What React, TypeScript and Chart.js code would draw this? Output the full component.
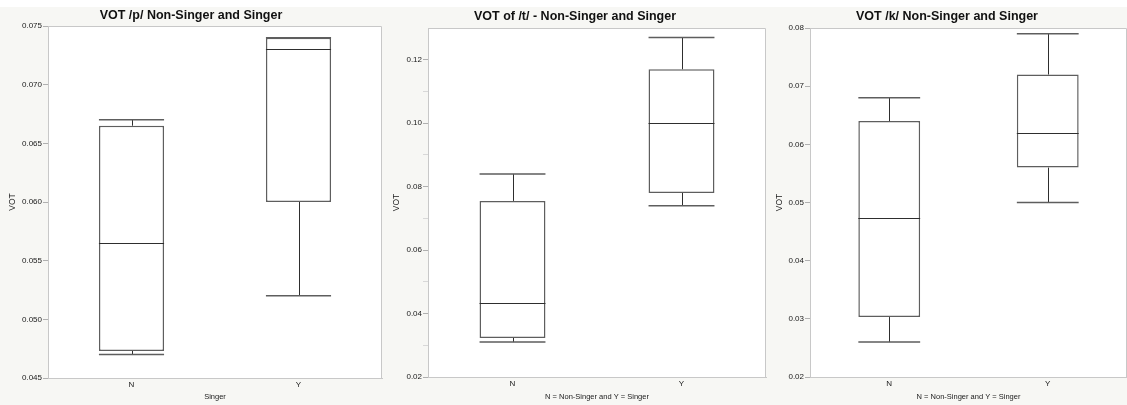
import React, { useEffect, useRef } from 'react';
import { Chart, registerables } from 'chart.js';

Chart.register(...registerables);

// ---------- data ----------
const categories = ['N', 'Y'];

// /p/
const pMin = [0.047, 0.052];
const pQ1 = [0.0473, 0.060];
const pMedian = [0.0565, 0.073];
const pQ3 = [0.0665, 0.074];
const pMax = [0.067, 0.074];
const pTickValues = [0.045, 0.05, 0.055, 0.06, 0.065, 0.07, 0.075];
const pTickLabels = ['0.045', '0.050', '0.055', '0.060', '0.065', '0.070', '0.075'];

// /t/
const tMin = [0.031, 0.074];
const tQ1 = [0.0323, 0.078];
const tMedian = [0.0433, 0.1];
const tQ3 = [0.0755, 0.117];
const tMax = [0.084, 0.127];
const tTickValues = [0.02, 0.03, 0.04, 0.05, 0.06, 0.07, 0.08, 0.09, 0.1, 0.11, 0.12];
const tTickLabels = ['0.02', '', '0.04', '', '0.06', '', '0.08', '', '0.10', '', '0.12'];

// /k/
const kMin = [0.026, 0.05];
const kQ1 = [0.0303, 0.056];
const kMedian = [0.0474, 0.062];
const kQ3 = [0.064, 0.072];
const kMax = [0.068, 0.079];
const kTickValues = [0.02, 0.03, 0.04, 0.05, 0.06, 0.07, 0.08];
const kTickLabels = ['0.02', '0.03', '0.04', '0.05', '0.06', '0.07', '0.08'];

// ---------- styles ----------
const FONT = 'Liberation Sans, Arial, Helvetica, sans-serif';
const PANEL_BG = '#f7f7f4';
const AXIS = '#c8c8c8';
const TEXT = '#1a1a1a';
const BOX_EDGE = '#5e5e5e';
const LINE_DARK = '#2e2e2e';

const boxPlugin = {
  id: 'boxStats',
  beforeDraw(chart: any) {
    const { ctx, width, height, chartArea: a } = chart;
    ctx.save();
    ctx.fillStyle = '#ffffff';
    ctx.fillRect(0, 0, width, height);
    ctx.fillStyle = PANEL_BG;
    ctx.fillRect(0, 7, width, height - 7);
    ctx.fillStyle = '#ffffff';
    ctx.fillRect(a.left, a.top, a.right - a.left, a.bottom - a.top);
    ctx.restore();
  },
  afterDatasetsDraw(chart: any) {
    const ds = chart.data.datasets[0];
    const meta = chart.getDatasetMeta(0);
    const y = chart.scales.y;
    const { ctx, chartArea: a } = chart;
    ctx.save();
    meta.data.forEach((bar: any, i: number) => {
      const x = Math.round(bar.x) + 0.5;
      const half = bar.width / 2;
      const l = bar.x - half;
      const r = bar.x + half;
      const yMin = y.getPixelForValue(ds.stats.min[i]);
      const yQ1 = y.getPixelForValue(ds.stats.q1[i]);
      const yMed = y.getPixelForValue(ds.stats.median[i]);
      const yQ3 = y.getPixelForValue(ds.stats.q3[i]);
      const yMax = y.getPixelForValue(ds.stats.max[i]);
      // whiskers
      ctx.strokeStyle = LINE_DARK;
      ctx.lineWidth = 1;
      ctx.beginPath();
      ctx.moveTo(x, yQ3);
      ctx.lineTo(x, yMax);
      ctx.moveTo(x, yQ1);
      ctx.lineTo(x, yMin);
      ctx.stroke();
      // caps
      ctx.strokeStyle = BOX_EDGE;
      ctx.lineWidth = 1.5;
      ctx.beginPath();
      ctx.moveTo(l, yMax);
      ctx.lineTo(r, yMax);
      ctx.moveTo(l, yMin);
      ctx.lineTo(r, yMin);
      ctx.stroke();
      // median
      ctx.strokeStyle = LINE_DARK;
      ctx.lineWidth = 1;
      ctx.beginPath();
      ctx.moveTo(l, Math.round(yMed) + 0.5);
      ctx.lineTo(r, Math.round(yMed) + 0.5);
      ctx.stroke();
    });
    // frame top & right
    ctx.strokeStyle = AXIS;
    ctx.lineWidth = 1;
    ctx.beginPath();
    ctx.moveTo(a.left, a.top + 0.5);
    ctx.lineTo(a.right - 0.5, a.top + 0.5);
    ctx.lineTo(a.right - 0.5, a.bottom);
    ctx.stroke();
    ctx.restore();
  },
};

type PanelCfg = {
  left: number;
  width: number;
  title: string;
  xTitle: string;
  min: number[];
  q1: number[];
  median: number[];
  q3: number[];
  max: number[];
  yMin: number;
  yMax: number;
  tickValues: number[];
  tickLabels: string[];
  yWidth: number;
  xHeight: number;
  padRight: number;
  titleTop: number;
  titleBottom: number;
  yTitlePad: number;
};

const panels: PanelCfg[] = [
  {
    left: 0, width: 384, title: 'VOT /p/ Non-Singer and Singer', xTitle: 'Singer',
    min: pMin, q1: pQ1, median: pMedian, q3: pQ3, max: pMax,
    yMin: 0.045, yMax: 0.075, tickValues: pTickValues, tickLabels: pTickLabels,
    yWidth: 48, xHeight: 27, padRight: 2, titleTop: 8.5, titleBottom: 2.5, yTitlePad: 7.2,
  },
  {
    left: 384, width: 383, title: 'VOT of /t/ - Non-Singer and Singer', xTitle: 'N = Non-Singer and Y = Singer',
    min: tMin, q1: tQ1, median: tMedian, q3: tQ3, max: tMax,
    yMin: 0.02, yMax: 0.13, tickValues: tTickValues, tickLabels: tTickLabels,
    yWidth: 44, xHeight: 28, padRight: 1, titleTop: 9.5, titleBottom: 3.5, yTitlePad: 7.9,
  },
  {
    left: 767, width: 360, title: 'VOT /k/ Non-Singer and Singer', xTitle: 'N = Non-Singer and Y = Singer',
    min: kMin, q1: kQ1, median: kMedian, q3: kQ3, max: kMax,
    yMin: 0.02, yMax: 0.08, tickValues: kTickValues, tickLabels: kTickLabels,
    yWidth: 43, xHeight: 28, padRight: 0, titleTop: 9.5, titleBottom: 3.5, yTitlePad: 7.9,
  },
];

function BoxPanel({ cfg }: { cfg: PanelCfg }) {
  const ref = useRef<HTMLCanvasElement>(null);
  useEffect(() => {
    if (!ref.current) return;
    const small = { family: FONT, size: 8 };
    const chart = new Chart(ref.current, {
      type: 'bar',
      data: {
        labels: categories,
        datasets: [
          {
            data: cfg.q1.map((v, i) => [v, cfg.q3[i]]),
            backgroundColor: '#ffffff',
            borderColor: BOX_EDGE,
            borderWidth: 1.5,
            borderSkipped: false,
            barPercentage: 0.39,
            categoryPercentage: 1,
            stats: { min: cfg.min, q1: cfg.q1, median: cfg.median, q3: cfg.q3, max: cfg.max },
          } as any,
        ],
      },
      options: {
        responsive: false,
        animation: false,
        devicePixelRatio: 1,
        layout: { padding: { top: 0, right: cfg.padRight, bottom: 0, left: 0 } },
        plugins: {
          legend: { display: false },
          tooltip: { enabled: false },
          title: {
            display: true,
            text: cfg.title,
            color: '#111',
            font: { family: FONT, size: 12.5, weight: 'bold' },
            padding: { top: cfg.titleTop, bottom: cfg.titleBottom },
          },
        },
        scales: {
          x: {
            grid: { display: false, drawTicks: false },
            border: { display: true, color: AXIS },
            ticks: { color: TEXT, font: small, padding: 2 },
            title: { display: true, text: cfg.xTitle, color: TEXT, font: { family: FONT, size: 7.5 }, padding: { top: 0, bottom: 3.5 } },
            afterFit: (s: any) => { s.height = cfg.xHeight; },
          },
          y: {
            min: cfg.yMin,
            max: cfg.yMax,
            grid: {
              drawOnChartArea: false,
              drawTicks: true,
              tickLength: 5,
              color: (c: any) => {
                const idx = cfg.tickValues.findIndex((v) => Math.abs(v - (c.tick ? c.tick.value : -1)) < 1e-9);
                return idx >= 0 && cfg.tickLabels[idx] === '' ? '#d8d8d8' : '#b0b0b0';
              },
            },
            border: { display: true, color: AXIS },
            afterBuildTicks: (s: any) => { s.ticks = cfg.tickValues.map((v) => ({ value: v })); },
            ticks: {
              autoSkip: false,
              color: TEXT,
              font: small,
              padding: 1,
              callback: (_v: any, i: number) => cfg.tickLabels[i],
            },
            title: { display: true, text: 'VOT', color: TEXT, font: { family: FONT, size: 8.5 }, padding: { top: cfg.yTitlePad, bottom: 0 } },
            afterFit: (s: any) => { s.width = cfg.yWidth; },
          },
        },
      } as any,
      plugins: [boxPlugin],
    });
    return () => chart.destroy();
  }, [cfg]);
  return (
    <div style={{ position: 'absolute', left: cfg.left, top: 0, width: cfg.width, height: 405 }}>
      <canvas ref={ref} width={cfg.width} height={405} style={{ display: 'block' }} />
    </div>
  );
}

export default function App() {
  return (
    <div style={{ position: 'absolute', left: 0, top: 0, width: 1127, height: 405, background: '#ffffff', overflow: 'hidden' }}>
      {panels.map((p, i) => (
        <BoxPanel key={i} cfg={p} />
      ))}
    </div>
  );
}
